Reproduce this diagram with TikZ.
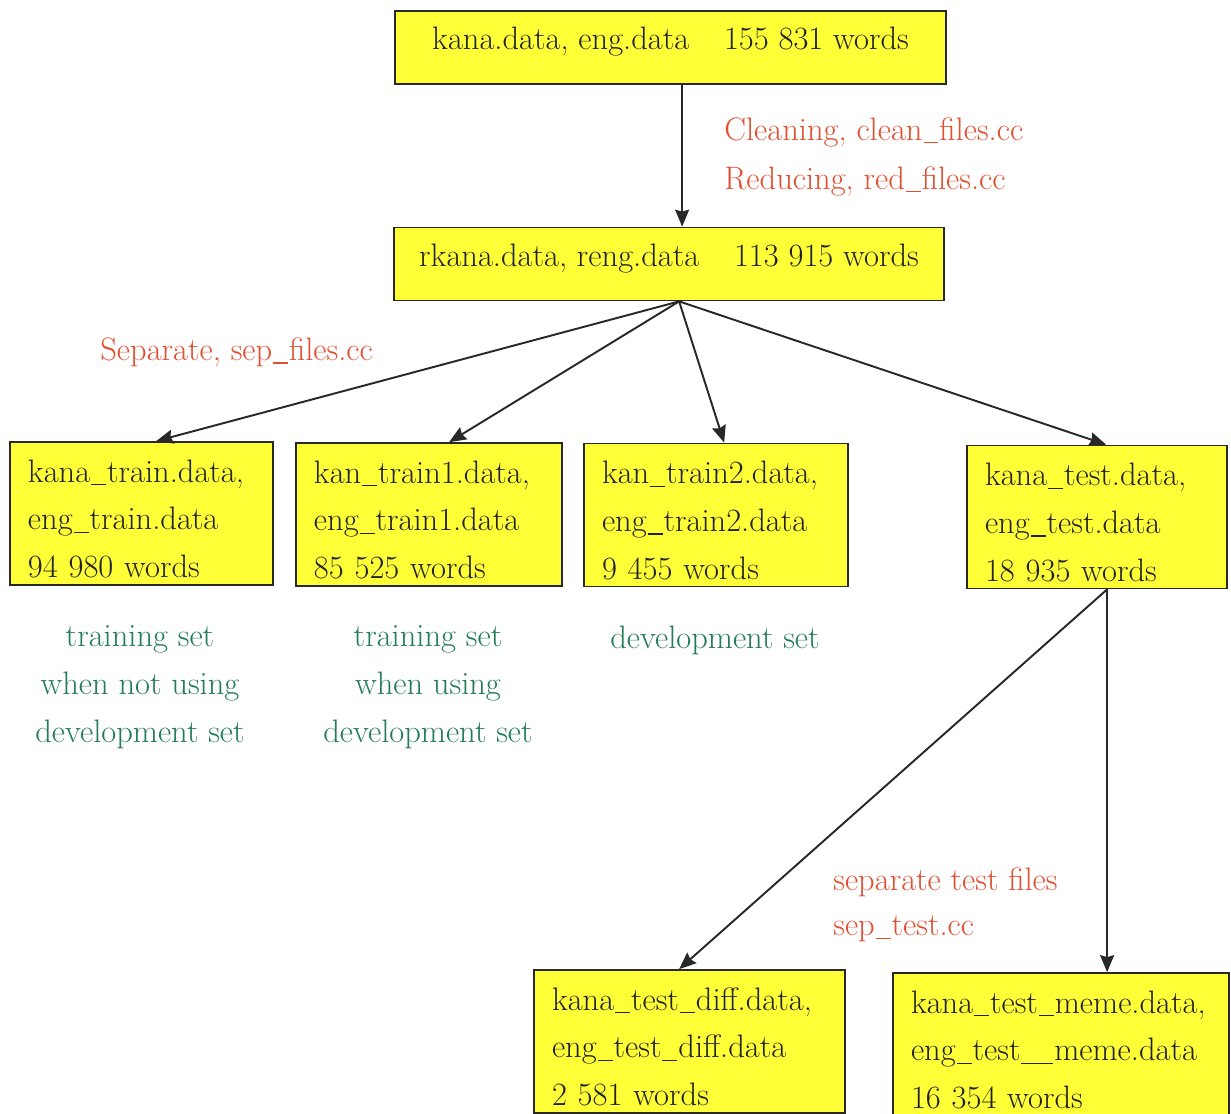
\documentclass[tikz,border=0pt]{standalone}
\usetikzlibrary{arrows.meta,calc}
\definecolor{boxfill}{RGB}{255,255,56}
\definecolor{boxline}{RGB}{40,40,40}
\definecolor{steptext}{RGB}{226,78,48}
\definecolor{usetext}{RGB}{34,124,84}
\definecolor{inktext}{RGB}{34,34,34}
% underscore of ordinary letter width, and a doubled one
\newcommand\us{\kern0.03em\rule[-0.1em]{0.46em}{0.04em}\kern0.03em}
\newcommand\uus{\kern0.03em\rule[-0.1em]{0.98em}{0.04em}\kern0.03em}
% first-line strut that sets the text block a little lower in its box
\newcommand\firstline{\rule{0pt}{19pt}}
\begin{document}
\begin{tikzpicture}[x=0.02cm,y=-0.02cm,
  every node/.style={font=\fontsize{18.5}{27.2}\selectfont},
  filebox/.style={draw=boxline,fill=boxfill,line width=1pt,text=inktext},
  wide/.style={filebox,inner sep=0pt,minimum width=#1*0.02cm,minimum height=1.46cm,
    text height=12.8pt,text depth=10pt},
  list/.style={filebox,inner xsep=0.36cm,inner ysep=0pt,
    text width={#1*0.02cm-0.72cm},align=left,minimum height=2.86cm},
  flow/.style={draw=boxline,line width=1.1pt,
    -{Stealth[length=0.34cm,width=0.28cm,inset=0.04cm]}},
  steplabel/.style={text=steptext,anchor=west,inner sep=0pt},
  uselabel/.style={text=usetext,align=center,inner sep=0pt}
]
\useasboundingbox (0,0) rectangle (1231,1113);
\clip (0,0) rectangle (1231,1113);

% corpus files
\node[wide=551] (top) at (670.5,47.5) {kana.data, eng.data\hspace{1.07em}155 831 words};
\node[wide=550] (mid) at (669,264) {rkana.data, reng.data\hspace{1.07em}113 915 words};

% split files
\node[list=263] (b1) at (141.5,513.5)
  {\firstline kana\us train.data,\\eng\us train.data\\94 980 words};
\node[list=266] (b2) at (429,514.5)
  {\firstline kan\us train1.data,\\eng\us train1.data\\85 525 words};
\node[list=264] (b3) at (716,515)
  {\firstline kan\us train2.data,\\eng\us train2.data\\9 455 words};
\node[list=260] (b4) at (1097,517)
  {\firstline kana\us test.data,\\eng\us test.data\\18 935 words};

% test subsets
\node[list=311] (bd) at (689.5,1041.5)
  {\firstline kana\us test\us diff.data,\\eng\us test\us diff.data\\2 581 words};
\node[list=336] (bm) at (1061,1044.5)
  {\firstline kana\us test\us meme.data,\\eng\us test\uus meme.data\\16 354 words};

% connectors
\draw[flow] ($(top.south west)+(288,0)$) -- ($(mid.north west)+(289,0)$);
\coordinate (fan) at ($(mid.south west)+(286,0)$);
\draw[flow] (fan) -- ($(b1.north west)+(147,0)$);
\draw[flow] (fan) -- ($(b2.north west)+(154,0)$);
\draw[flow] (fan) -- ($(b3.north west)+(141,0)$);
\draw[flow] (fan) -- ($(b4.north west)+(140,0)$);
\coordinate (testout) at ($(b4.south west)+(141,0)$);
\draw[flow] (testout) -- ($(bd.north west)+(146,0)$);
\draw[flow] (testout) -- ($(bm.north west)+(215,0)$);

% processing steps
\node[steplabel] (clean) at (724,132) {Cleaning, clean\us files.cc};
\node[steplabel] (reduce) at (724,181) {Reducing, red\us files.cc};
\node[steplabel] (sep) at (100,352) {Separate, sep\us files.cc};
\node[steplabel] (septest) at (833,882) {separate test files};
\node[steplabel] (septestcc) at (833,929) {sep\us test.cc};

% roles of the split files
\node[uselabel] (use1) at (140,687) {training set\\when not using\\development set};
\node[uselabel] (use2) at (428,687) {training set\\when using\\development set};
\node[uselabel] (use3) at (715,640) {development set};
\end{tikzpicture}
\end{document}
